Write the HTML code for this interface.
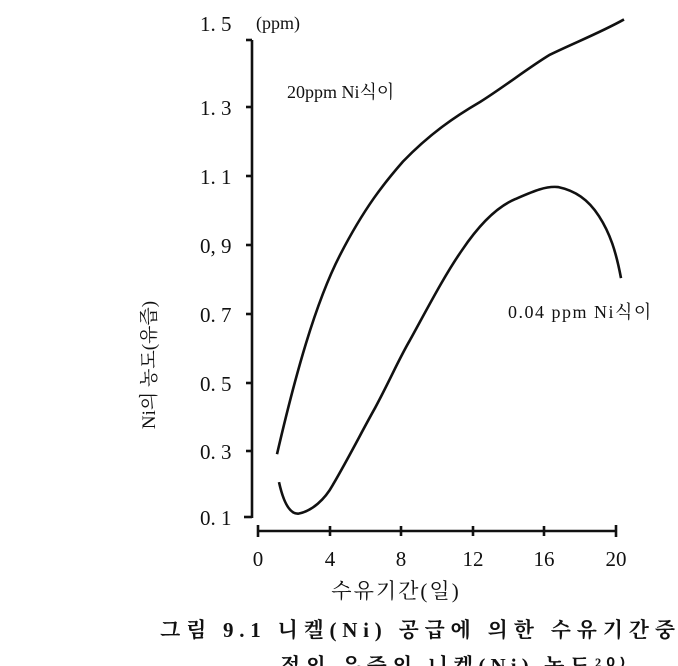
<!DOCTYPE html>
<html><head><meta charset="utf-8"><style>
html,body{margin:0;padding:0;background:#fff;}
svg{display:block;}
text{font-family:"Liberation Serif","Noto Serif CJK KR",serif;fill:#111;}
</style></head><body>
<svg width="678" height="666" viewBox="0 0 678 666" xmlns="http://www.w3.org/2000/svg">
<g stroke="#111" stroke-width="2.6" fill="none">
<line x1="252" y1="40" x2="252" y2="518"/>
<line x1="246" y1="40" x2="252" y2="40"/>
<line x1="246" y1="107" x2="252" y2="107"/>
<line x1="246" y1="176" x2="252" y2="176"/>
<line x1="246" y1="245" x2="252" y2="245"/>
<line x1="246" y1="314" x2="252" y2="314"/>
<line x1="246" y1="383" x2="252" y2="383"/>
<line x1="246" y1="451" x2="252" y2="451"/>
<line x1="244" y1="517" x2="252" y2="517"/>
<line x1="258" y1="531" x2="616" y2="531"/>
<line x1="258" y1="525" x2="258" y2="537"/>
<line x1="330" y1="526" x2="330" y2="536"/>
<line x1="401" y1="526" x2="401" y2="536"/>
<line x1="473" y1="526" x2="473" y2="536"/>
<line x1="544" y1="526" x2="544" y2="536"/>
<line x1="616" y1="525" x2="616" y2="537"/>
<g transform="scale(1,1.2145)">
<path vector-effect="non-scaling-stroke" d="M277,374 C295,310 315,250 340,210 C365,170 385,150 403,133 C430,110 455,96 480,84 C505,71 528,56 550,45 C575,35 600,27 624,16"/>
<path vector-effect="non-scaling-stroke" d="M279,397 C283,412 289,423 298,423 C312,421 325,411 333,399 C350,375 362,355 375,336 C390,313 398,297 410,280 C428,253 445,226 462,206 C480,184 498,170 515,164 C532,158 545,153 558,154 C575,157 588,164 599,178 C610,192 616,207 621,229"/>
</g>
</g>
<g font-size="21">
<text x="200" y="31">1. 5</text>
<text x="256" y="29" font-size="18">(ppm)</text>
<text x="200" y="115">1. 3</text>
<text x="200" y="184">1. 1</text>
<text x="200" y="253">0, 9</text>
<text x="200" y="322">0. 7</text>
<text x="200" y="391">0. 5</text>
<text x="200" y="459">0. 3</text>
<text x="200" y="525">0. 1</text>
<text x="258" y="566" text-anchor="middle">0</text>
<text x="330" y="566" text-anchor="middle">4</text>
<text x="401" y="566" text-anchor="middle">8</text>
<text x="473" y="566" text-anchor="middle">12</text>
<text x="544" y="566" text-anchor="middle">16</text>
<text x="616" y="566" text-anchor="middle">20</text>
</g>
<text x="287" y="98" font-size="18">20ppm Ni식이</text>
<text x="508" y="318" font-size="18" letter-spacing="1.5">0.04 ppm  Ni식이</text>
<text x="396" y="598" font-size="21" text-anchor="middle" font-family="Liberation Sans,Noto Sans CJK KR,sans-serif" letter-spacing="2">수유기간(일)</text>
<text transform="translate(155,365) rotate(-90)" font-size="19" text-anchor="middle" font-family="Liberation Sans,Noto Sans CJK KR,sans-serif">Ni의 농도(유즙)</text>
<text x="160" y="637" font-size="21" font-weight="bold" textLength="515" lengthAdjust="spacing" font-family="Liberation Serif,Noto Serif CJK KR,serif">그림 9.1  니켈(Ni) 공급에 의한 수유기간중</text>
<text x="280" y="673" font-size="21" font-weight="bold" textLength="345" lengthAdjust="spacing" font-family="Liberation Serif,Noto Serif CJK KR,serif">젖의 유즙의 니켈(Ni) 농도²⁰⁾</text>
</svg>
</body></html>
